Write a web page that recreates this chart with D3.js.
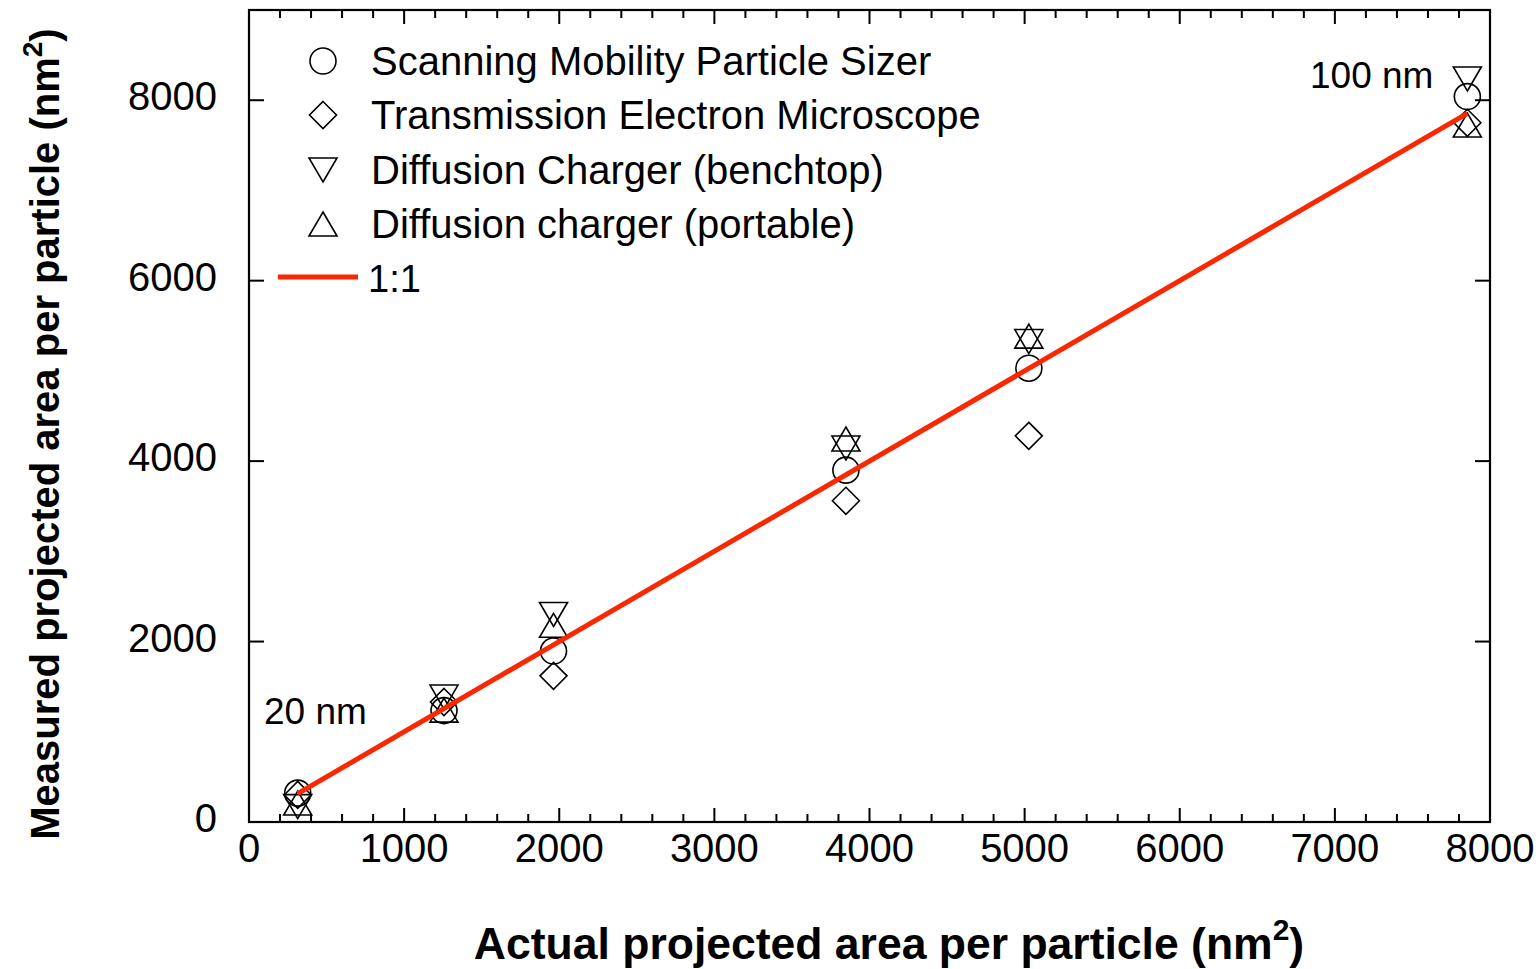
<!DOCTYPE html>
<html><head><meta charset="utf-8">
<script src="https://cdn.jsdelivr.net/npm/d3@7"></script>
<style>body{margin:0;background:#fff}svg{display:block}text{font-family:"Liberation Sans",Arial,sans-serif}</style>
</head><body><div id="chart"></div>
<script>
const actualArea = [314, 1257, 1963, 3848, 5027, 7854];
const smps      = [320, 1235, 1895, 3900, 5030, 8040];
const tem       = [300, 1330, 1620, 3560, 4280, 7750];
const dcBench   = [170, 1385, 2300, 4145, 5325, 8235];
const dcPort    = [210, 1240, 2180, 4245, 5385, 7725];
const xTicks = [0,1000,2000,3000,4000,5000,6000,7000,8000];
const yTicks = [0,2000,4000,6000,8000];
const seriesNames = ["Scanning Mobility Particle Sizer","Transmission Electron Microscope","Diffusion Charger (benchtop)","Diffusion charger (portable)"];
const seriesShapes = ["circle","diamond","triDown","triUp"];
const seriesData = [smps, tem, dcBench, dcPort];
const lineColor = "#fa2800";

const W=1539,H=969;
const svg=d3.select("#chart").append("svg").attr("width",W).attr("height",H);
const L=249,R=1490,T=10,B=822;
const x=d3.scaleLinear().domain([0,8000]).range([L,R]);
const y=d3.scaleLinear().domain([0,9000]).range([B,T]);

function markerD(s){
  const p=d3.path();
  if(s==="circle"){p.arc(0,0,13,0,2*Math.PI);}
  else if(s==="diamond"){p.moveTo(0,-13.5);p.lineTo(13.5,0);p.lineTo(0,13.5);p.lineTo(-13.5,0);p.closePath();}
  else if(s==="triUp"){p.moveTo(0,-12);p.lineTo(14,12);p.lineTo(-14,12);p.closePath();}
  else {p.moveTo(0,12);p.lineTo(14,-12);p.lineTo(-14,-12);p.closePath();}
  return p.toString();
}

// axes
const ax=svg.append("g").attr("stroke","#000").attr("fill","none");
ax.append("rect").attr("x",L).attr("y",T).attr("width",R-L).attr("height",B-T).attr("stroke-width",2.2);
const xMinor=d3.range(0,8001,200).filter(v=>v%1000!==0);
xTicks.forEach(v=>{
  ax.append("line").attr("x1",x(v)).attr("x2",x(v)).attr("y1",B).attr("y2",B-14).attr("stroke-width",2);
  ax.append("line").attr("x1",x(v)).attr("x2",x(v)).attr("y1",T).attr("y2",T+14).attr("stroke-width",2);
});
xMinor.forEach(v=>{
  ax.append("line").attr("x1",x(v)).attr("x2",x(v)).attr("y1",B).attr("y2",B-8).attr("stroke-width",2);
  ax.append("line").attr("x1",x(v)).attr("x2",x(v)).attr("y1",T).attr("y2",T+8).attr("stroke-width",2);
});
yTicks.forEach(v=>{
  ax.append("line").attr("x1",L).attr("x2",L+15).attr("y1",y(v)).attr("y2",y(v)).attr("stroke-width",2);
  ax.append("line").attr("x1",R).attr("x2",R-15).attr("y1",y(v)).attr("y2",y(v)).attr("stroke-width",2);
});
svg.append("g").selectAll("text").data(xTicks).join("text")
  .attr("x",d=>x(d)).attr("y",B+40).attr("text-anchor","middle").attr("font-size",40).text(d=>d);
svg.append("g").selectAll("text").data(yTicks).join("text")
  .attr("x",L-32).attr("y",d=>y(d)+10).attr("text-anchor","end").attr("font-size",40).text(d=>d);

// axis titles
const xt=svg.append("text").attr("x",889).attr("y",959).attr("text-anchor","middle").attr("font-size",44.5).attr("font-weight","bold");
xt.append("tspan").text("Actual projected area per particle (nm");
xt.append("tspan").attr("dy",-19).attr("font-size",30).text("2");
xt.append("tspan").attr("dy",19).text(")");
const yt=svg.append("text").attr("transform","translate(59,434) rotate(-90)").attr("text-anchor","middle").attr("font-size",40).attr("font-weight","bold");
yt.append("tspan").text("Measured projected area per particle (nm");
yt.append("tspan").attr("dy",-17).attr("font-size",28).text("2");
yt.append("tspan").attr("dy",17).text(")");

// markers
seriesData.forEach((arr,i)=>{
  svg.append("g").selectAll("path").data(arr).join("path")
    .attr("transform",(d,j)=>`translate(${x(actualArea[j])},${y(d)})`)
    .attr("d",markerD(seriesShapes[i])).attr("fill","none").attr("stroke","#000").attr("stroke-width",1.6);
});
// 1:1 line
svg.append("path").datum([actualArea[0],actualArea[actualArea.length-1]])
  .attr("d",d3.line().x(d=>x(d)).y(d=>y(d))).attr("stroke",lineColor).attr("stroke-width",5).attr("fill","none");

// annotations
svg.append("text").attr("x",264).attr("y",724).attr("font-size",37).text("20 nm");
svg.append("text").attr("x",1310).attr("y",88).attr("font-size",37).text("100 nm");

// legend
const lg=svg.append("g");
const ly=[61,115,170,224];
seriesNames.forEach((n,i)=>{
  lg.append("path").attr("transform",`translate(323,${ly[i]})`).attr("d",markerD(seriesShapes[i])).attr("fill","none").attr("stroke","#000").attr("stroke-width",1.6);
  lg.append("text").attr("x",371).attr("y",ly[i]+14).attr("font-size",40).text(n);
});
lg.append("line").attr("x1",278).attr("x2",358).attr("y1",277).attr("y2",277).attr("stroke",lineColor).attr("stroke-width",5);
lg.append("text").attr("x",368).attr("y",292).attr("font-size",38).text("1:1");
</script></body></html>
